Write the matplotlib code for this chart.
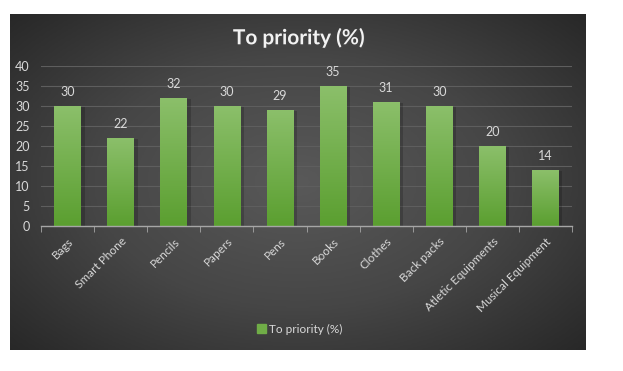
import matplotlib
matplotlib.use("Agg")
import matplotlib.pyplot as plt
import numpy as np
from matplotlib.colors import LinearSegmentedColormap
from matplotlib.patches import Patch
import matplotlib.patheffects as pe

categories = ['Bags', 'Smart Phone', 'Pencils', 'Papers', 'Pens', 'Books',
              'Clothes', 'Back packs', 'Atletic Equipments', 'Musical Equipment']
values = [30, 22, 32, 30, 29, 35, 31, 30, 20, 14]
series_name = 'To priority (%)'
yticks = [0, 5, 10, 15, 20, 25, 30, 35, 40]

plt.rcParams['font.family'] = ['Lato', 'DejaVu Sans']
text_col = '#d9d9d9'

W, H = 623, 371
fig = plt.figure(figsize=(W / 100, H / 100), dpi=100)
fig.patch.set_facecolor('white')

# dark panel with radial gradient
bg = fig.add_axes([10 / W, (H - 350) / H, 576 / W, 336 / H])
bg.set_axis_off()
yy, xx = np.mgrid[-1:1:200j, -1:1:300j]
r = np.sqrt((xx * 0.95) ** 2 + (yy * 0.9) ** 2)
bg_cmap = LinearSegmentedColormap.from_list('bg', ['#595959', '#464646', '#262626'])
bg.imshow(np.clip(r / 1.35, 0, 1), cmap=bg_cmap, vmin=0, vmax=1, aspect='auto',
          extent=[0, 1, 0, 1])
bg.set_xlim(0, 1)
bg.set_ylim(0, 1)

ax = fig.add_axes([41 / W, (H - 226) / H, 531 / W, 160 / H])
ax.patch.set_alpha(0)
x = np.arange(len(categories))
bars = ax.bar(x, values, width=0.5, color='#70ad47', zorder=2)

bar_cmap = LinearSegmentedColormap.from_list('bar', ['#5b9f30', '#8bbf6a'])
grad = np.linspace(0, 1, 100).reshape(-1, 1)
for b in bars:
    bx, bw, bh = b.get_x(), b.get_width(), b.get_height()
    # soft shadow
    ax.add_patch(plt.Rectangle((bx + 0.03, 0), bw + 0.04, bh - 0.2, color='black',
                               alpha=0.18, zorder=1.5, lw=0))
    im = ax.imshow(grad, cmap=bar_cmap, origin='lower', aspect='auto',
                   extent=[bx, bx + bw, 0, bh], zorder=2.5)
    im.set_clip_path(b)
    ax.annotate(str(int(bh)), (bx + bw / 2, bh), xytext=(0, 6),
                textcoords='offset points', ha='center', va='bottom',
                color=text_col, fontsize=9)

ax.set_xlim(-0.5, len(categories) - 0.5)
ax.set_ylim(0, 40)
ax.set_yticks(yticks)
ax.tick_params(axis='y', length=0, colors=text_col, labelsize=9, pad=8)
ax.yaxis.grid(True, color='#5e5e5e', lw=0.8, zorder=0)
ax.set_axisbelow(True)

ax.set_xticks(x)
ax.set_xticklabels(categories, rotation=45, ha='right', rotation_mode='anchor',
                   color=text_col, fontsize=8.5)
ax.tick_params(axis='x', length=0, pad=7)
ax.set_xticks(np.arange(len(categories) + 1) - 0.5, minor=True)
ax.tick_params(axis='x', which='minor', length=4, color='#a6a6a6', direction='out')

for s in ['top', 'right', 'left']:
    ax.spines[s].set_visible(False)
ax.spines['bottom'].set_color('#a6a6a6')
ax.spines['bottom'].set_linewidth(1)

fig.text(299 / W, 1 - 38 / H, 'To priority (%)', ha='center', va='center',
         color='#f2f2f2', fontsize=15, fontweight='bold',
         path_effects=[pe.withSimplePatchShadow(offset=(1, -1), alpha=0.5)])

leg = fig.legend(handles=[Patch(color='#70ad47', label=series_name)],
                 loc='center', bbox_to_anchor=(300 / W, 1 - 329 / H), frameon=False,
                 fontsize=8.5, handlelength=0.7, handleheight=0.7, handletextpad=0.3)
for t in leg.get_texts():
    t.set_color(text_col)

fig.savefig('out.png', dpi=100)
